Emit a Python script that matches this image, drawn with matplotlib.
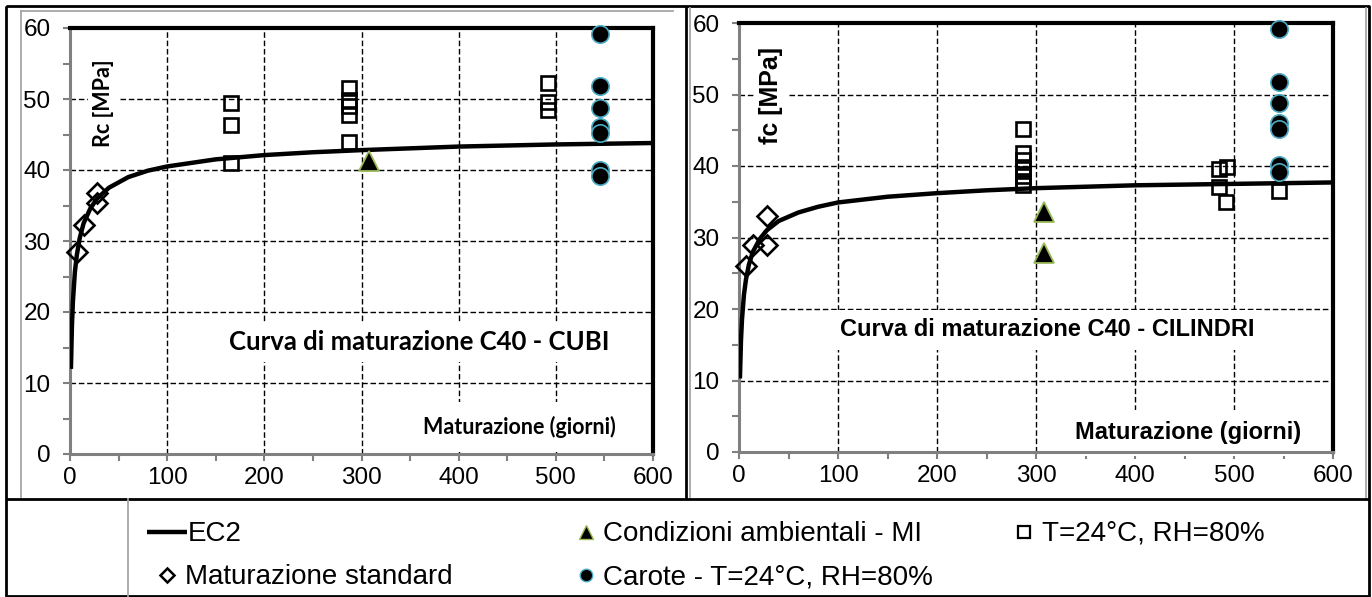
import matplotlib
matplotlib.use("Agg")
import matplotlib.pyplot as plt
from matplotlib.ticker import MultipleLocator

plt.rcParams['font.family'] = ['Liberation Sans', 'DejaVu Sans']

# --- dati ---
# curva EC2 (cubi / cilindri)
ec2_t = [1, 2, 3, 5, 7, 10, 14, 21, 28, 40, 60, 80, 100, 150, 200, 250, 300, 400, 500, 600]
ec2_cubi = [12.3, 18.1, 21.5, 25.6, 28.0, 30.4, 32.5, 34.6, 36.0, 37.5, 39.0, 39.9, 40.5,
            41.5, 42.1, 42.5, 42.8, 43.3, 43.6, 43.8]
ec2_cil = [10.6, 15.6, 18.5, 22.0, 24.1, 26.2, 28.0, 29.8, 31.0, 32.3, 33.5, 34.3, 34.9,
           35.7, 36.2, 36.6, 36.9, 37.3, 37.5, 37.7]

# cubi
std_t_cubi = [7, 14, 28, 28]
std_v_cubi = [28.4, 32.2, 36.7, 35.3]
amb_t_cubi = [308]
amb_v_cubi = [41.3]
sq_t_cubi = [166, 166, 166, 287, 287, 287, 287, 287, 492, 492, 492]
sq_v_cubi = [49.4, 46.3, 41.0, 51.6, 49.9, 49.0, 47.8, 44.0, 52.3, 49.6, 48.5]
car_t_cubi = [545, 545, 545, 545, 545, 545, 545]
car_v_cubi = [59.1, 51.8, 48.8, 46.0, 45.2, 40.0, 39.1]

# cilindri
std_t_cil = [7, 14, 28, 28]
std_v_cil = [26.0, 28.9, 33.0, 29.0]
amb_t_cil = [308, 308]
amb_v_cil = [33.5, 27.9]
sq_t_cil = [287, 287, 287, 287, 287, 287, 287, 485, 493, 485, 492, 545]
sq_v_cil = [45.2, 41.8, 40.8, 39.6, 38.6, 37.9, 37.4, 39.6, 39.8, 37.1, 35.0, 36.5]
car_t_cil = [545, 545, 545, 545, 545, 545, 545]
car_v_cil = [59.2, 51.8, 48.8, 46.0, 45.2, 40.1, 39.2]

W, H = 1372, 597
fig = plt.figure(figsize=(W / 100, H / 100), dpi=100)

# sfondo: linee della tabella e legenda
ov = fig.add_axes([0, 0, 1, 1])
ov.set_xlim(0, W)
ov.set_ylim(H, 0)
ov.axis('off')
blk = dict(color='black', lw=2, solid_capstyle='butt')
gry = dict(color='#a6a6a6', lw=1.3)
ov.plot([6, 1369, 1369, 6, 6], [6, 6, 596, 596, 6], **blk)
ov.plot([6, 1369], [499, 499], **blk)
ov.plot([686, 686], [6, 499], **blk)
ov.plot([21, 21], [11, 497], **gry)
ov.plot([21, 673], [11, 11], **gry)
ov.plot([690, 690], [8, 497], **gry)
ov.plot([1366, 1366], [8, 497], **gry)
ov.plot([128, 128], [499, 596], **gry)

# legenda
fs_leg = 20
ov.plot([147, 187], [532, 532], color='black', lw=3.2, solid_capstyle='butt')
ov.text(188, 534, 'EC2', fontsize=fs_leg, va='center', ha='left')
ov.plot(167, 575, marker='D', ms=7, mfc='white', mec='black', mew=1.8)
ov.text(185, 577, 'Maturazione standard', fontsize=fs_leg, va='center', ha='left')
ov.plot(586, 532, marker='^', ms=10, mfc='black', mec='#9bbb59', mew=1)
ov.text(603, 534, 'Condizioni ambientali - MI', fontsize=fs_leg, va='center', ha='left')
ov.plot(586, 575, marker='o', ms=9, mfc='black', mec='#4bacc6', mew=1)
ov.text(603, 577, 'Carote - T=24°C, RH=80%', fontsize=fs_leg, va='center', ha='left')
ov.plot(1024, 532, marker='s', ms=8, mfc='white', mec='black', mew=1.6)
ov.text(1042, 534, 'T=24°C, RH=80%', fontsize=fs_leg, va='center', ha='left')


def add_px_axes(x0, y0, x1, y1):
    return fig.add_axes([x0 / W, 1 - y1 / H, (x1 - x0) / W, (y1 - y0) / H])


def draw_chart(ax, curve, std_t, std_v, amb_t, amb_v, sq_t, sq_v, car_t, car_v):
    ax.set_xlim(0, 600)
    ax.set_ylim(0, 60)
    ax.xaxis.set_major_locator(MultipleLocator(100))
    ax.xaxis.set_minor_locator(MultipleLocator(50))
    ax.yaxis.set_major_locator(MultipleLocator(10))
    ax.yaxis.set_minor_locator(MultipleLocator(5))
    ax.grid(True, which='major', color='black', lw=1.0, ls=(0, (4, 2)))
    ax.set_axisbelow(True)
    for s in ['left', 'bottom']:
        ax.spines[s].set_color('#808080')
        ax.spines[s].set_linewidth(2.2)
    for s in ['top', 'right']:
        ax.spines[s].set_color('black')
        ax.spines[s].set_linewidth(3)
    ax.tick_params(which='both', direction='out', length=5, width=1.5, color='#808080',
                   labelsize=17.5)
    ax.tick_params(axis='y', pad=9)
    ax.tick_params(axis='x', pad=4)

    ax.plot(ec2_t, curve, color='black', lw=3.2, zorder=3)
    ax.plot(std_t, std_v, ls='none', marker='D', ms=10, mfc='none', mec='black',
            mew=1.9, zorder=4, clip_on=False)
    ax.plot(amb_t, amb_v, ls='none', marker='^', ms=15, mfc='black', mec='#9bbb59',
            mew=1.3, zorder=4, clip_on=False)
    ax.plot(sq_t, sq_v, ls='none', marker='s', ms=10.5, mfc='none', mec='black',
            mew=1.9, zorder=4, clip_on=False)
    ax.plot(car_t, car_v, ls='none', marker='o', ms=12.5, mfc='black', mec='#4bacc6',
            mew=1.2, zorder=5, clip_on=False)


def label(ax, x, y, s, pad, **kw):
    # testo con sfondo bianco che copre la griglia ma non gli assi
    ax.text(x / W, 1 - y / H, s, transform=fig.transFigure, ha='center', va='center',
            fontweight='bold', zorder=1,
            bbox=dict(facecolor='white', edgecolor='none', pad=pad), **kw)


# grafico cubi
ax1 = add_px_axes(70, 28, 653, 454)
draw_chart(ax1, ec2_cubi, std_t_cubi, std_v_cubi, amb_t_cubi, amb_v_cubi,
           sq_t_cubi, sq_v_cubi, car_t_cubi, car_v_cubi)
label(ax1, 104, 103, 'Rc [MPa]', 4, fontsize=15.5, family='Lato', rotation=90)
label(ax1, 419, 342, 'Curva di maturazione C40 - CUBI', 6, fontsize=18.5, family='Lato')
label(ax1, 519, 427, 'Maturazione (giorni)', 10, fontsize=15.5, family='Lato')

# grafico cilindri
ax2 = add_px_axes(739, 23, 1333, 452)
draw_chart(ax2, ec2_cil, std_t_cil, std_v_cil, amb_t_cil, amb_v_cil,
           sq_t_cil, sq_v_cil, car_t_cil, car_v_cil)
label(ax2, 771, 95, 'fc [MPa]', 3, fontsize=18, rotation=90)
label(ax2, 1047, 330, 'Curva di maturazione C40 - CILINDRI', 6, fontsize=17)
label(ax2, 1188, 433, 'Maturazione (giorni)', 8, fontsize=17)

fig.savefig('out.png', dpi=100)
